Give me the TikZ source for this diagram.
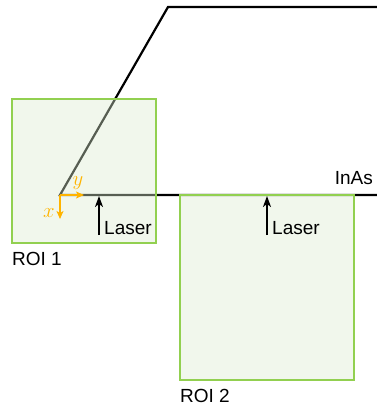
\documentclass[tikz,border=0pt]{standalone}
\usepackage{fontspec}
\setsansfont{Liberation Sans}
\usetikzlibrary{arrows.meta}
\definecolor{roiedge}{HTML}{92D050}
\definecolor{roifill}{HTML}{DBEBCF}
\definecolor{axiscol}{HTML}{FFB400}
\tikzset{
  roi/.style={draw=roiedge, line width=2.2pt, fill=roifill, fill opacity=0.4, draw opacity=1, inner sep=0pt},
  lbl/.style={font=\sffamily\fontsize{19}{22}\selectfont, inner sep=0pt, text opacity=1},
  laser/.style={line width=1.6pt, -{Stealth[length=11pt,width=8pt,inset=3pt]}},
  axis/.style={axiscol, line width=2.2pt, -{Stealth[length=8pt,width=7pt,inset=2pt]}},
  sample/.style={line width=2.2pt, line join=miter}
}
\begin{document}
\begin{tikzpicture}[x=1pt,y=-1pt]
\useasboundingbox (0,0) rectangle (377,408);
% sample outline
\coordinate (o) at (60,195);
\coordinate (tl) at (168,7);
\coordinate (tr) at (378,7);
\coordinate (br) at (378,195);
\draw[sample] (tr) -- (tl) -- (o) -- (br);
% ROIs
\node[roi, minimum width=144pt, minimum height=144pt] (roi1) at (84,171) {};
\node[roi, minimum width=174pt, minimum height=185pt] (roi2) at (267,287.5) {};
% labels
\node[lbl, anchor=north west] (roi1lbl) at (12,252) {ROI 1};
\node[lbl, anchor=north west] (roi2lbl) at (180,389) {ROI 2};
\node[lbl, anchor=base east] (inas) at (373,184) {InAs};
% lasers
\coordinate (l1s) at (99,235);
\coordinate (l1e) at (99,196);
\draw[laser] (l1s) -- (l1e);
\node[lbl, anchor=base west] (las1) at (104,234) {Laser};
\coordinate (l2s) at (267,235);
\coordinate (l2e) at (267,196);
\draw[laser] (l2s) -- (l2e);
\node[lbl, anchor=base west] (las2) at (272,234) {Laser};
% axes
\coordinate (ay) at (84,195);
\coordinate (ax) at (60,219);
\draw[axis] (o) -- (ay);
\draw[axis] (o) -- (ax);
\node[text=axiscol, inner sep=0pt, font=\fontsize{21}{24}\selectfont] (ylbl) at (78,183) {$y$};
\node[text=axiscol, inner sep=0pt, font=\fontsize{21}{24}\selectfont] (xlbl) at (49,213) {$x$};
\end{tikzpicture}
\end{document}
